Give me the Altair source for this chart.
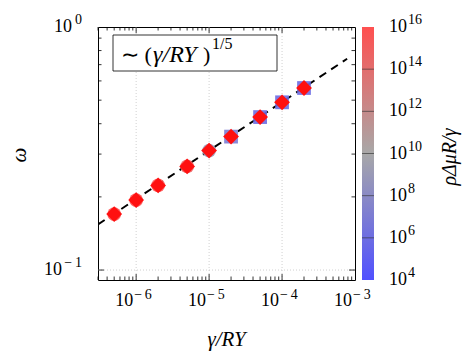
import altair as alt
import pandas as pd

# ---------------- data ----------------
gamma_RY = [5e-7, 1e-6, 2e-6, 5e-6, 1e-5, 2e-5, 5e-5, 1e-4, 2e-4]
omega = [0.170, 0.194, 0.223, 0.267, 0.310, 0.354, 0.426, 0.490, 0.561]
back_shape = ["circle", "circle", "circle", "circle", "circle", "square", "square", "square", "square"]
back_param = [1e16, 1e16, 1e16, 1e15, 1e9, 1e7, 1e6, 1e6, 1e6]  # rho*Delta mu*R/gamma

fit_x = [3e-7, 7.8e-4]
fit_y = [0.154, 0.74]

x_major = [1e-6, 1e-5, 1e-4, 1e-3]
x_major_exp = ["\u2212\u20096", "\u2212\u20095", "\u2212\u20094", "\u2212\u20093"]
x_grid = [1e-6, 1e-5, 1e-4]
x_minor = [m * 10.0 ** e for e in (-7, -6, -5, -4) for m in range(2, 10) if 2.9e-7 < m * 10.0 ** e < 9.5e-4]
y_grid = [0.1]
y_major_in = [0.1]
y_minor = [0.2, 0.3, 0.4, 0.5, 0.6, 0.7, 0.8, 0.9]
cb_ticks = [1e4, 1e6, 1e8, 1e10, 1e12, 1e14, 1e16]
cb_exp = ["4", "6", "8", "10", "12", "14", "16"]
cb_inner = [1e6, 1e8, 1e10, 1e12, 1e14]
cb_colors = ["#5050ff", "#a8a8a8", "#ff5050"]

W, H = 257, 253
FONT = "Liberation Serif"

xs = alt.Scale(type="log", domain=[3e-7, 1e-3], nice=False)
ys = alt.Scale(type="log", domain=[0.091, 1.0], nice=False)
cs = alt.Scale(type="log", domain=[1e4, 1e10, 1e16], range=cb_colors, interpolate="rgb")
cbs = alt.Scale(type="log", domain=[1e4, 1e16], nice=False)

pts = pd.DataFrame({"x": gamma_RY, "y": omega, "shape": back_shape, "p": back_param})
fit = pd.DataFrame({"x": fit_x, "y": fit_y})
one = pd.DataFrame({"a": [0]})

X = lambda f="x": alt.X(f + ":Q", scale=xs, axis=None)
Y = lambda f="y": alt.Y(f + ":Q", scale=ys, axis=None)

layers = []

# grid
layers.append(alt.Chart(pd.DataFrame({"v": x_grid})).mark_rule(color="#c4c4c4", strokeWidth=0.8, strokeDash=[1, 2])
              .encode(x=X("v"), y=alt.value(0), y2=alt.value(H)))
layers.append(alt.Chart(pd.DataFrame({"v": y_grid})).mark_rule(color="#c4c4c4", strokeWidth=0.8, strokeDash=[1, 2])
              .encode(y=Y("v"), x=alt.value(0), x2=alt.value(W)))

# inside ticks on all four sides
def xt(vals, ln):
    out = []
    for y0, y1 in ((H, H - ln), (0, ln)):
        out.append(alt.Chart(pd.DataFrame({"v": vals})).mark_rule(color="black", strokeWidth=0.8)
                   .encode(x=X("v"), y=alt.value(y0), y2=alt.value(y1)))
    return out

def yt(vals, ln):
    out = []
    for x0, x1 in ((0, ln), (W, W - ln)):
        out.append(alt.Chart(pd.DataFrame({"v": vals})).mark_rule(color="black", strokeWidth=0.8)
                   .encode(y=Y("v"), x=alt.value(x0), x2=alt.value(x1)))
    return out

layers += xt(x_grid, 6) + xt(x_minor, 3.5) + yt(y_major_in, 6) + yt(y_minor, 3.5)

# fit line
layers.append(alt.Chart(fit).mark_line(color="black", strokeWidth=2, strokeDash=[8, 6], clip=True)
              .encode(x=X(), y=Y()))

# coloured markers behind, red diamonds on top
layers.append(alt.Chart(pts).mark_point(filled=True, size=190, opacity=0.9)
              .encode(x=X(), y=Y(), shape=alt.Shape("shape:N", scale=None),
                      color=alt.Color("p:Q", scale=cs, legend=None)))
layers.append(alt.Chart(pts).mark_point(shape="diamond", filled=True, size=250, opacity=1, color="#ff1010")
              .encode(x=X(), y=Y()))

# x tick labels
xl = pd.DataFrame({"v": x_major, "e": x_major_exp})
layers.append(alt.Chart(xl).mark_text(font=FONT, fontSize=18, align="right", baseline="alphabetic", dx=-3)
              .encode(x=X("v"), y=alt.value(279), text=alt.value("10")))
layers.append(alt.Chart(xl).mark_text(font=FONT, fontSize=14, align="left", baseline="alphabetic", dx=-2)
              .encode(x=X("v"), y=alt.value(272), text="e:N"))

# y tick labels
for val, e, x10 in ((1.0, "0", -26), (0.1, "\u2212\u20091", -36)):
    d = pd.DataFrame({"v": [val], "e": [e]})
    layers.append(alt.Chart(d).mark_text(font=FONT, fontSize=18, align="right", baseline="middle")
                  .encode(y=Y("v"), x=alt.value(x10), text=alt.value("10")))
    layers.append(alt.Chart(d).mark_text(font=FONT, fontSize=14, align="right", baseline="middle", dy=-7)
                  .encode(y=Y("v"), x=alt.value(-16), text="e:N"))

# axis titles
layers.append(alt.Chart(one).mark_text(font=FONT, fontSize=21, fontStyle="italic", align="center", baseline="alphabetic")
              .encode(x=alt.value(W / 2), y=alt.value(319), text=alt.value("\u03b3/RY")))
layers.append(alt.Chart(one).mark_text(font=FONT, fontSize=21, fontStyle="italic", align="center", baseline="middle", angle=270)
              .encode(x=alt.value(-78), y=alt.value(128), text=alt.value("\u03c9")))

# legend box
layers.append(alt.Chart(one).mark_rect(fill="white", stroke="black", strokeWidth=0.8)
              .encode(x=alt.value(15), x2=alt.value(179), y=alt.value(8), y2=alt.value(44)))
layers.append(alt.Chart(one).mark_text(font=FONT, fontSize=22, align="left", baseline="alphabetic")
              .encode(x=alt.value(23), y=alt.value(35), text=alt.value("\u223c (")))
layers.append(alt.Chart(one).mark_text(font=FONT, fontSize=24, fontStyle="italic", align="left", baseline="alphabetic")
              .encode(x=alt.value(55), y=alt.value(35), text=alt.value("\u03b3/RY")))
layers.append(alt.Chart(one).mark_text(font=FONT, fontSize=22, align="left", baseline="alphabetic")
              .encode(x=alt.value(105), y=alt.value(35), text=alt.value(")")))
layers.append(alt.Chart(one).mark_text(font=FONT, fontSize=16, align="left", baseline="alphabetic")
              .encode(x=alt.value(114), y=alt.value(22), text=alt.value("1/5")))

main = alt.layer(*layers)

# colour bar (own y scale)
grad = {"gradient": "linear", "x1": 0, "y1": 1, "x2": 0, "y2": 0,
        "stops": [{"offset": 0, "color": cb_colors[0]}, {"offset": 0.5, "color": cb_colors[1]},
                  {"offset": 1, "color": cb_colors[2]}]}
cb_layers = [
    alt.Chart(one).mark_rect().encode(x=alt.value(264), x2=alt.value(276), y=alt.value(0), y2=alt.value(H),
                                      fill=alt.value(grad)),
    alt.Chart(pd.DataFrame({"v": cb_inner})).mark_rule(color="#333333", strokeWidth=0.8, opacity=0.8)
    .encode(y=alt.Y("v:Q", scale=cbs, axis=None), x=alt.value(264), x2=alt.value(276)),
]
cbl = pd.DataFrame({"v": cb_ticks, "e": cb_exp})
cb_layers.append(alt.Chart(cbl).mark_text(font=FONT, fontSize=18, align="left", baseline="middle")
                 .encode(y=alt.Y("v:Q", scale=cbs, axis=None), x=alt.value(291), text=alt.value("10")))
cb_layers.append(alt.Chart(cbl).mark_text(font=FONT, fontSize=14, align="left", baseline="middle", dy=-7)
                 .encode(y=alt.Y("v:Q", scale=cbs, axis=None), x=alt.value(310), text="e:N"))
cb_layers.append(alt.Chart(one).mark_text(font=FONT, fontSize=20, fontStyle="italic", align="center", baseline="middle", angle=270)
                 .encode(x=alt.value(352), y=alt.value(130), text=alt.value("\u03c1\u0394\u03bcR/\u03b3")))
cb = alt.layer(*cb_layers)

chart = (alt.layer(main, cb)
         .resolve_scale(y="independent")
         .properties(width=W, height=H, padding={"left": 98, "top": 27, "right": 118, "bottom": 75},
                     autosize=alt.AutoSizeParams(type="none"), background="white")
         .configure_view(stroke="black", strokeWidth=1))

chart.save("out.html", embed_options={"renderer": "svg", "actions": False})
